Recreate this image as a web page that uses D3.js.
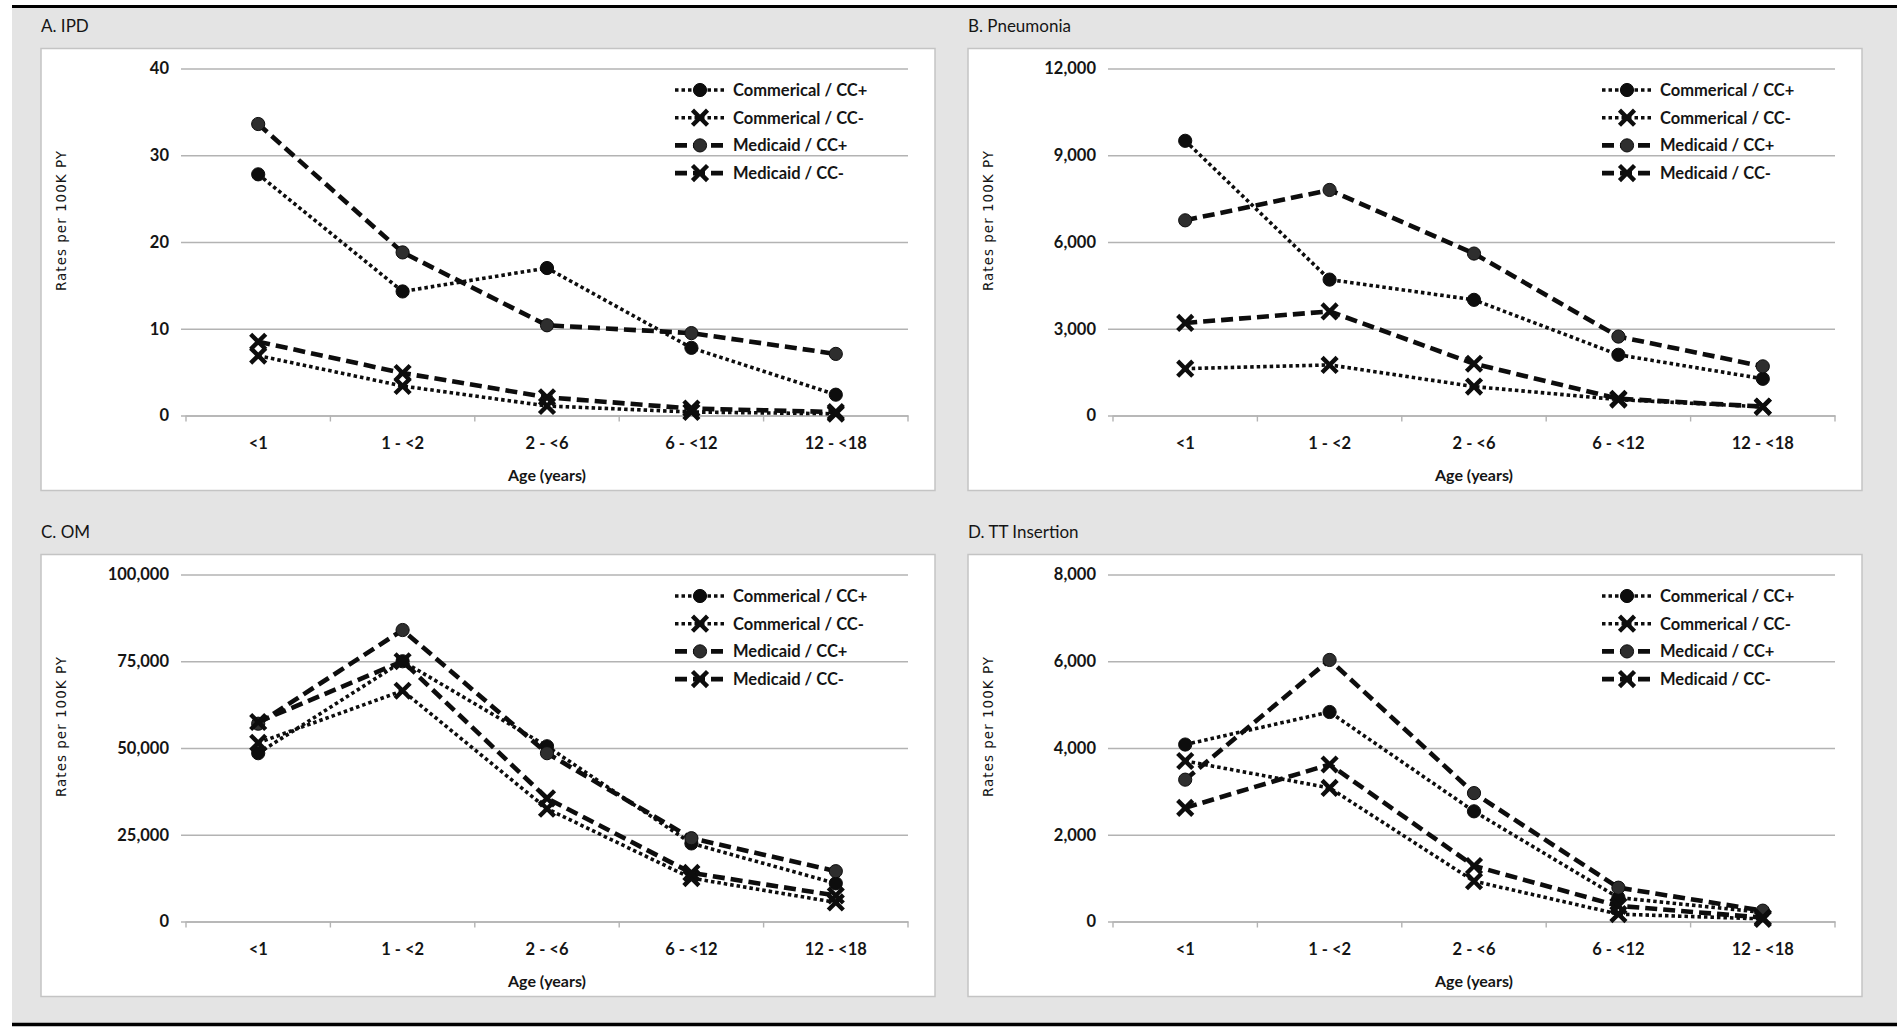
<!DOCTYPE html>
<html lang="en">
<head>
<meta charset="UTF-8">
<title>Rates per 100K PY by age group</title>
<script src="https://d3js.org/d3.v7.min.js"></script>
<style>
  body { margin: 0; background: #fff; }
  svg text { font-family: Lato, "Open Sans", sans-serif; fill: #151515; }
</style>
</head>
<body>
<div id="chart"></div>
<script>
// ====== DATA ======
var ageGroups = ["<1", "1 - <2", "2 - <6", "6 - <12", "12 - <18"];
var seriesNames = ["Commerical / CC+", "Commerical / CC-", "Medicaid / CC+", "Medicaid / CC-"];
var panelTitles = ["A. IPD", "B. Pneumonia", "C. OM", "D. TT Insertion"];

// order of rows: Commerical CC+, Commerical CC-, Medicaid CC+, Medicaid CC-
var ipdValues = [
  [27.8, 14.3, 17.0, 7.8, 2.4],
  [6.9, 3.4, 1.1, 0.4, 0.2],
  [33.6, 18.8, 10.4, 9.5, 7.1],
  [8.5, 4.9, 2.1, 0.8, 0.4]
];
var pneumoniaValues = [
  [9500, 4700, 4000, 2100, 1270],
  [1620, 1750, 1000, 550, 300],
  [6750, 7800, 5600, 2730, 1700],
  [3200, 3600, 1790, 580, 310]
];
var omValues = [
  [48500, 75000, 50500, 22500, 11000],
  [51500, 66500, 32500, 12500, 5500],
  [57000, 84000, 48500, 24000, 14500],
  [57500, 75000, 35500, 14000, 7500]
];
var ttValues = [
  [4080, 4830, 2540, 550, 210],
  [3700, 3080, 930, 170, 60],
  [3270, 6030, 2960, 780, 250],
  [2620, 3620, 1280, 360, 90]
];

var ipdTicks = [0, 10, 20, 30, 40];
var pneumoniaTicks = [0, 3000, 6000, 9000, 12000];
var omTicks = [0, 25000, 50000, 75000, 100000];
var ttTicks = [0, 2000, 4000, 6000, 8000];

var yTitle = "Rates per 100K PY";
var xTitle = "Age (years)";

/* ====== PAGE ====== */
var W = 1902, H = 1030;
var svg = d3.select("#chart").append("svg")
  .attr("width", W)
  .attr("height", H);

// gray sheet between two black rules
svg.append("rect")
  .attr("x", 12).attr("y", 7)
  .attr("width", 1885).attr("height", 1017)
  .attr("fill", "#e4e4e4");
svg.append("line")
  .attr("x1", 12).attr("x2", 1897).attr("y1", 6.5).attr("y2", 6.5)
  .attr("stroke", "#000").attr("stroke-width", 3);
svg.append("line")
  .attr("x1", 12).attr("x2", 1897).attr("y1", 1024.5).attr("y2", 1024.5)
  .attr("stroke", "#000").attr("stroke-width", 3.5);

// line / marker look per series
var styles = [
  {dash: "3.5,3", width: 3.6, marker: "circle", fill: "#0d0d0d"},
  {dash: "3.5,3", width: 3.6, marker: "x", fill: "#0d0d0d"},
  {dash: "12,6", width: 4.6, marker: "circle", fill: "#2e2e2e"},
  {dash: "12,6", width: 4.6, marker: "x", fill: "#0d0d0d"}
];

var panels = [
  {title: panelTitles[0], values: ipdValues, ticks: ipdTicks, left: 41, top: 48.5},
  {title: panelTitles[1], values: pneumoniaValues, ticks: pneumoniaTicks, left: 968, top: 48.5},
  {title: panelTitles[2], values: omValues, ticks: omTicks, left: 41, top: 554.5},
  {title: panelTitles[3], values: ttValues, ticks: ttTicks, left: 968, top: 554.5}
];

var panelW = 894, panelH = 442;
var symX = d3.symbol().type(d3.symbolX).size(150);

function drawMarker(sel, st, cx, cy) {
  if (st.marker === "circle") {
    sel.append("circle")
      .attr("cx", cx).attr("cy", cy).attr("r", 6.6)
      .attr("fill", st.fill).attr("stroke", "#0d0d0d").attr("stroke-width", 1);
  } else {
    sel.append("path")
      .attr("d", symX())
      .attr("transform", "translate(" + cx + "," + cy + ")")
      .attr("fill", "none").attr("stroke", st.fill)
      .attr("stroke-width", 4.4);
  }
}

panels.forEach(function(p) {
  var g = svg.append("g");

  // panel title
  g.append("text")
    .attr("x", p.left).attr("y", p.top - 23.5)
    .attr("dominant-baseline", "central")
    .style("font-size", "17px")
    .text(p.title);

  // white box
  g.append("rect")
    .attr("x", p.left).attr("y", p.top)
    .attr("width", panelW).attr("height", panelH)
    .attr("fill", "#fff")
    .attr("stroke", "#c4c4c4").attr("stroke-width", 1.5);

  var plotL = p.left + 145, plotR = p.left + 867;
  var plotT = p.top + 20, plotB = p.top + 367;

  var x = d3.scaleBand().domain(ageGroups).range([plotL, plotR]).padding(0);
  var y = d3.scaleLinear().domain([0, d3.max(p.ticks)]).range([plotB, plotT]);

  /* ========== Y axis with gridlines =================== */
  var yAxis = d3.axisLeft(y)
    .tickValues(p.ticks)
    .tickSizeInner(-(plotR - plotL))
    .tickSizeOuter(0)
    .tickPadding(17)
    .tickFormat(d3.format(","));

  var yg = g.append("g")
    .attr("transform", "translate(" + plotL + ",0)")
    .call(yAxis);
  yg.select(".domain").remove();
  yg.selectAll(".tick line")
    .attr("x1", -5)
    .attr("stroke", "#b3b3b3").attr("stroke-width", 1.4);
  yg.selectAll(".tick text")
    .style("font-size", "16.5px").style("font-weight", "700")
    .style("font-family", "Lato, sans-serif")
    .attr("fill", "#151515");

  /* ========== X axis =================== */
  var xAxis = d3.axisBottom(x).tickSize(0).tickPadding(22);
  var xg = g.append("g")
    .attr("transform", "translate(0," + plotB + ")")
    .call(xAxis);
  xg.select(".domain").attr("stroke", "#b3b3b3").attr("stroke-width", 1.4);
  xg.selectAll(".tick text")
    .style("font-size", "16.5px").style("font-weight", "700")
    .style("font-family", "Lato, sans-serif")
    .attr("fill", "#151515");

  // tick marks sit on the category boundaries
  var edges = ageGroups.map(function(d) { return x(d); }).concat([plotR]);
  g.selectAll(".edgeTick")
    .data(edges)
    .enter()
    .append("line")
    .attr("x1", function(d) { return d; }).attr("x2", function(d) { return d; })
    .attr("y1", plotB).attr("y2", plotB + 6)
    .attr("stroke", "#b3b3b3").attr("stroke-width", 1.4);

  // axis titles
  g.append("text")
    .attr("x", (plotL + plotR) / 2).attr("y", plotB + 59)
    .attr("text-anchor", "middle").attr("dominant-baseline", "central")
    .style("font-size", "16px").style("font-weight", "700")
    .text(xTitle);

  g.append("text")
    .attr("transform", "translate(" + (p.left + 20) + "," + (p.top + 172) + ")rotate(-90)")
    .attr("text-anchor", "middle").attr("dominant-baseline", "central")
    .style("font-family", "'DejaVu Sans', sans-serif")
    .style("font-size", "13.5px").style("letter-spacing", "1px")
    .attr("fill", "#333")
    .text(yTitle);

  /* ========== Series =================== */
  var cx = function(i) { return x(ageGroups[i]) + x.bandwidth() / 2; };
  var line = d3.line()
    .x(function(d, i) { return cx(i); })
    .y(function(d) { return y(d); });

  p.values.forEach(function(vals, s) {
    var st = styles[s];
    g.append("path")
      .datum(vals)
      .attr("d", line)
      .attr("fill", "none")
      .attr("stroke", "#0d0d0d")
      .attr("stroke-width", st.width)
      .attr("stroke-dasharray", st.dash);
    var mg = g.append("g");
    vals.forEach(function(v, i) { drawMarker(mg, st, cx(i), y(v)); });
  });

  /* ========== Legend =================== */
  seriesNames.forEach(function(name, s) {
    var st = styles[s];
    var ly = p.top + 41.5 + s * 27.7;
    g.append("line")
      .attr("x1", p.left + 634).attr("x2", p.left + 684)
      .attr("y1", ly).attr("y2", ly)
      .attr("stroke", "#0d0d0d")
      .attr("stroke-width", st.width)
      .attr("stroke-dasharray", st.dash);
    drawMarker(g, st, p.left + 659, ly);
    g.append("text")
      .attr("x", p.left + 692).attr("y", ly)
      .attr("dominant-baseline", "central")
      .style("font-size", "16.5px").style("font-weight", "700")
      .text(name);
  });
});
</script>
</body>
</html>
